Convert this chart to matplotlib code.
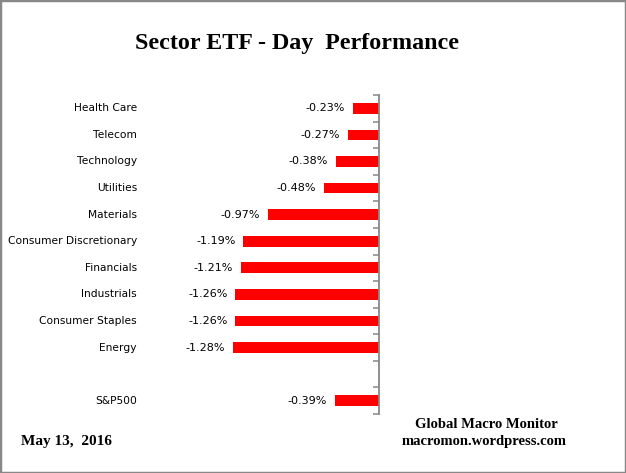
import numpy as np
import matplotlib.pyplot as plt
from matplotlib.patches import Rectangle

# sector day performance, percent
sectors = ['Health Care', 'Telecom', 'Technology', 'Utilities', 'Materials',
           'Consumer Discretionary', 'Financials', 'Industrials',
           'Consumer Staples', 'Energy', 'S&P500']
values = [-0.23, -0.27, -0.38, -0.48, -0.97, -1.19, -1.21, -1.26, -1.26, -1.28, -0.39]
value_labels = ['-0.23%', '-0.27%', '-0.38%', '-0.48%', '-0.97%', '-1.19%',
                '-1.21%', '-1.26%', '-1.26%', '-1.28%', '-0.39%']

W, H = 626, 473
fig = plt.figure(figsize=(W / 100, H / 100), dpi=100)
fig.patch.set_facecolor('white')

# plot area in pixels: axis line at x=379, slots from y=95 to 414
left_px, right_px, top_px, bot_px = 10, 379, 95, 414
px_per_pct = 114.0
ax = fig.add_axes([left_px / W, 1 - bot_px / H, (right_px - left_px) / W, (bot_px - top_px) / H])
ax.set_xlim(-(right_px - left_px) / px_per_pct, 0)

# 10 sectors, then an empty slot, then the index
ypos = list(range(len(sectors) - 1)) + [len(sectors)]
ax.set_ylim(len(sectors) + 0.5, -0.5)

ax.barh(ypos, values, height=0.4, color='#ff0000', zorder=2)

for y, v, lab in zip(ypos, values, value_labels):
    ax.text(v - 0.07, y, lab, ha='right', va='center', fontsize=8, color='black',
            family='DejaVu Sans')

for y, name in zip(ypos, sectors):
    ax.text(-(right_px - 137) / px_per_pct, y, name, ha='right', va='center',
            fontsize=7.7, color='black', family='DejaVu Sans')

for s in ['top', 'left', 'bottom']:
    ax.spines[s].set_visible(False)
ax.spines['right'].set_color('#888888')
ax.spines['right'].set_linewidth(1.3)
ax.set_xticks([])
ax.yaxis.tick_right()
ax.set_yticks(np.arange(-0.5, len(sectors) + 1, 1.0))
ax.set_yticklabels([])
ax.tick_params(axis='y', direction='in', length=4, width=1.1, color='#888888')
ax.patch.set_alpha(0)

fig.text(297 / W, 1 - 44 / H, 'Sector ETF - Day  Performance', ha='center', va='center',
         fontsize=17.3, fontweight='bold', family='Liberation Serif')
fig.text(21 / W, 1 - 441 / H, 'May 13,  2016', ha='left', va='center',
         fontsize=11, fontweight='bold', family='Liberation Serif')
fig.text(486 / W, 1 - 424 / H, 'Global Macro Monitor', ha='center', va='center',
         fontsize=10.5, fontweight='bold', family='Liberation Serif')
fig.text(484 / W, 1 - 441 / H, 'macromon.wordpress.com', ha='center', va='center',
         fontsize=10.5, fontweight='bold', family='Liberation Serif')

fig.patches.append(Rectangle((0, 0), 1, 1, transform=fig.transFigure, fill=False,
                             edgecolor='#888888', linewidth=2.5))

fig.savefig('out.png', dpi=100)
